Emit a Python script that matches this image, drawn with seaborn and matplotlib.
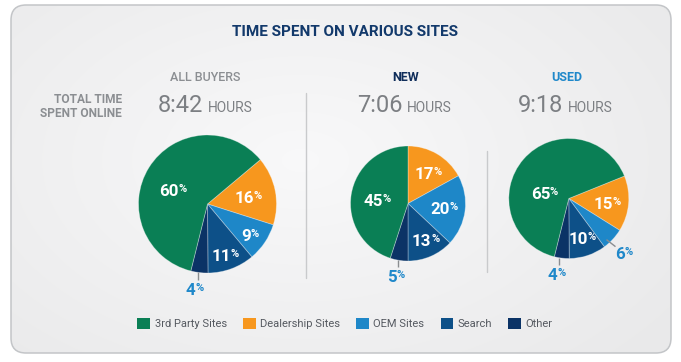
import matplotlib
matplotlib.use("Agg")
import matplotlib.pyplot as plt
import seaborn as sns
import numpy as np
from matplotlib.patches import FancyBboxPatch, Patch

# ---------------- data ----------------
categories = ["Dealership Sites", "OEM Sites", "Search", "Other", "3rd Party Sites"]
legend_order = ["3rd Party Sites", "Dealership Sites", "OEM Sites", "Search", "Other"]
groups = ["ALL BUYERS", "NEW", "USED"]
hours = ["8:42", "7:06", "9:18"]
all_buyers = [16, 9, 11, 4, 60]
new_buyers = [17, 20, 13, 5, 45]
used_buyers = [15, 6, 10, 4, 65]
title = "TIME SPENT ON VARIOUS SITES"
row_label = ["TOTAL TIME", "SPENT ONLINE"]
unit = "HOURS"

# ---------------- style ----------------
sns.set_theme(style="white")
FONT = ["Roboto", "DejaVu Sans"]
plt.rcParams["font.family"] = FONT

palette = sns.color_palette(["#F7971E", "#1E87C8", "#0D5088", "#0B3366", "#0A7F55"])
cat_color = dict(zip(categories, palette))
NAVY = "#12396B"
GREY = "#8B8E92"
TGREY = "#7C7F83"
BLUE = "#1F88CA"
head_colors = [GREY, "#0F2D5A", BLUE]

W, H = 681, 362
fig = plt.figure(figsize=(W / 100, H / 100), dpi=100)
ax = fig.add_axes([0, 0, 1, 1])

# card background with soft gradient
card = FancyBboxPatch((11, 5), 660, 348, boxstyle="round,pad=0,rounding_size=15",
                      facecolor="none", edgecolor="#C3C5C8", linewidth=1.1, zorder=3)
yy, xx = np.mgrid[0:H, 0:W]
d = np.sqrt(((xx - 300) / 420.0) ** 2 + ((yy - 160) / 260.0) ** 2)
g = np.clip(0.975 - 0.055 * d, 0.915, 0.975)
img = ax.imshow(np.dstack([g, g, g * 1.004]).clip(0, 1), extent=(0, W, H, 0),
                origin="upper", zorder=0, interpolation="bilinear")
ax.add_patch(card)
img.set_clip_path(card)

# pies: layout
pies = [
    dict(vals=all_buyers, cx=207.5, cy=204, r=69, start=50,
         lab={4: (0.54, -9.6), 0: (0.60, 1.4), 1: (0.77, 2.0), 2: (0.78, 0.8)},
         out={3: (1.0, 1.2, (0, 8), (-3, 9))}),
    dict(vals=new_buyers, cx=408, cy=203.5, r=57.5, start=0,
         lab={0: (0.64, 3.9), 1: (0.63, 0.0), 2: (0.71, -2.9), 4: (0.53, -2.5)},
         out={3: (1.0, 1.0, (0, 7), (-2, 9))}),
    dict(vals=used_buyers, cx=568.8, cy=198.5, r=60, start=68,
         lab={4: (0.41, -28), 0: (0.65, 1.6), 2: (0.70, -1.0)},
         out={1: (0.93, 4.7, (9, 7), (9, 6)), 3: (1.0, 2.8, (0, 7), (-2, 9))}),
]

NUM_FS, PCT_FS = 12.2, 8.0
DIG_W = 0.562 * NUM_FS * 100 / 72      # px per digit
PCT_W = 0.73 * PCT_FS * 100 / 72       # px for "%"
CAP_N = 0.711 * NUM_FS * 100 / 72
CAP_P = 0.711 * PCT_FS * 100 / 72


def pct_label(x, y, val, color):
    s = str(val)
    wtot = len(s) * DIG_W + PCT_W
    xb = x - wtot / 2 + len(s) * DIG_W
    yb = y + CAP_N / 2
    ax.text(xb, yb, s, ha="right", va="baseline", fontsize=NUM_FS,
            fontweight="bold", color=color, zorder=6)
    ax.text(xb - 0.4, yb - (CAP_N - CAP_P), "%", ha="left", va="baseline",
            fontsize=PCT_FS, fontweight="bold", color=color, zorder=6)


for p in pies:
    vals = p["vals"]
    cols = [cat_color[c] for c in categories]
    ax.pie(vals, colors=cols, startangle=p["start"] - 90, counterclock=True,
           center=(p["cx"], p["cy"]), radius=p["r"], frame=True,
           wedgeprops=dict(edgecolor=(1, 1, 1, 0.35), linewidth=0.6, zorder=4))
    cum = np.cumsum([0] + list(vals)) / sum(vals) * 360.0 + p["start"]
    for i, v in enumerate(vals):
        mid = (cum[i] + cum[i + 1]) / 2
        if i in p["lab"]:
            f, da = p["lab"][i]
            a = np.radians(mid + da)
            x = p["cx"] + f * p["r"] * np.sin(a)
            y = p["cy"] - f * p["r"] * np.cos(a)
            pct_label(x, y, v, "white")
        elif i in p["out"]:
            f, da, lead, off = p["out"][i]
            a = np.radians(mid + da)
            x0 = p["cx"] + f * p["r"] * np.sin(a)
            y0 = p["cy"] - f * p["r"] * np.cos(a)
            x1, y1 = x0 + lead[0], y0 + lead[1]
            ax.plot([x0, x1], [y0, y1], color="#8A8D90", lw=1.0, zorder=5,
                    solid_capstyle="butt")
            pct_label(x1 + off[0], y1 + off[1], v, BLUE)

# titles / headings
ax.text(345, 32, title, ha="center", va="center", fontsize=11, fontweight="bold",
        color=NAVY, zorder=6)
head_x = [205.5, 406, 566.5]
num_right = [203.5, 402.5, 563.5]
for i, gname in enumerate(groups):
    ax.text(head_x[i], 81, gname, ha="center", va="baseline", fontsize=9,
            fontweight="bold" if i else "medium", color=head_colors[i], zorder=6)
    ax.text(num_right[i], 112, hours[i], ha="right", va="baseline", fontsize=17,
            fontweight="normal", color=TGREY, zorder=6)
    ax.text(num_right[i] + 4.5, 112, unit, ha="left", va="baseline", fontsize=10,
            color=TGREY, zorder=6)
for k, line in enumerate(row_label):
    ax.text(122, 103 + 14 * k, line, ha="right", va="baseline", fontsize=8.6,
            fontweight="bold", color=GREY, zorder=6)

# dividers
ax.plot([306, 306], [93, 278], color="#C9CACC", lw=1.0, zorder=2)
ax.plot([487, 487], [151, 272], color="#C9CACC", lw=1.0, zorder=2)

# legend
handles = [Patch(facecolor=cat_color[c], edgecolor="none", label=c) for c in legend_order]
leg = ax.legend(handles=handles, ncol=5, loc="center", bbox_to_anchor=(345 / W, 1 - 323.5 / H),
                frameon=False, fontsize=8, handlelength=1.15, handleheight=1.15,
                handletextpad=0.4, columnspacing=1.45, borderaxespad=0)
for t in leg.get_texts():
    t.set_color("#555960")

ax.set_xlim(0, W)
ax.set_ylim(H, 0)
ax.set_aspect("auto")
ax.axis("off")
fig.patch.set_facecolor("white")
fig.savefig("out.png", dpi=100, facecolor="white")
